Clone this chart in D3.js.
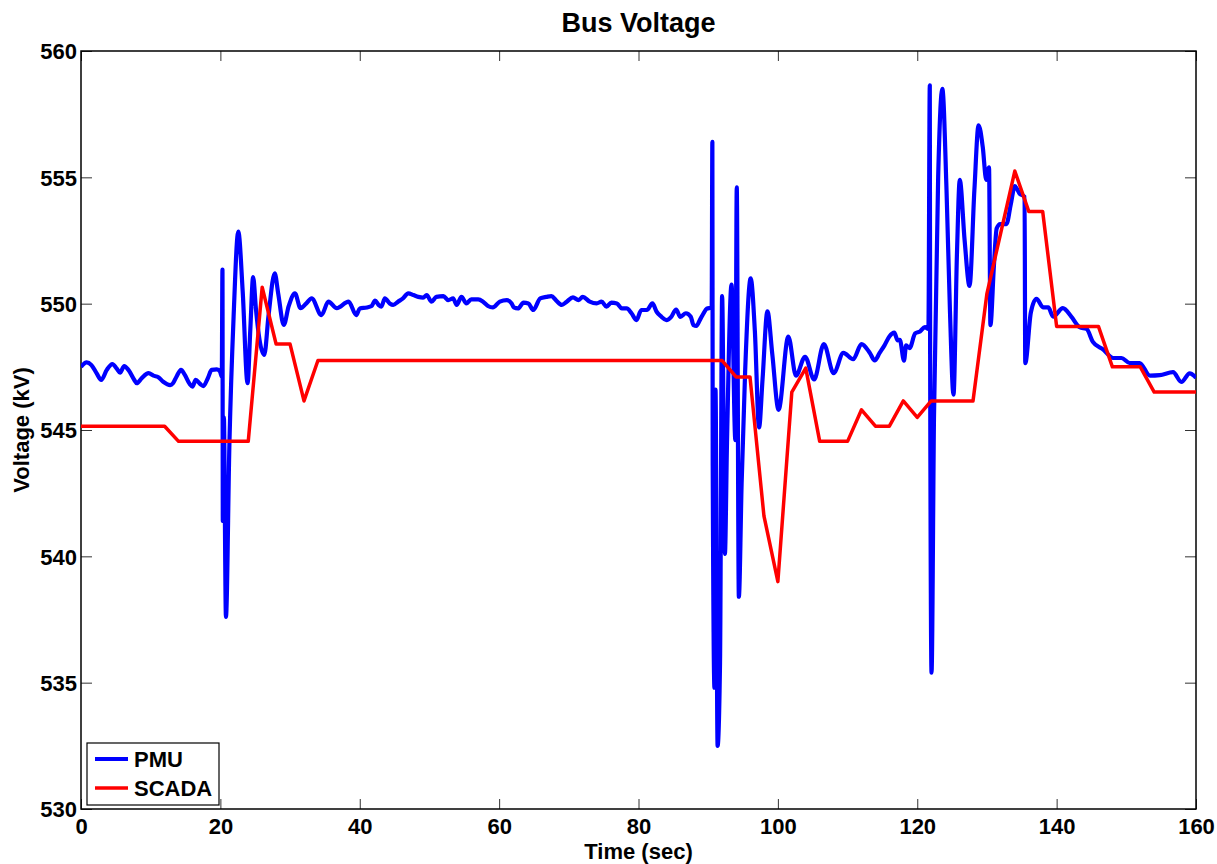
<!DOCTYPE html>
<html>
<head>
<meta charset="utf-8">
<script src="https://cdn.jsdelivr.net/npm/d3@7"></script>
<style>
  body { margin: 0; background: #fff; }
  svg text { font-family: "Liberation Sans", Arial, sans-serif; font-weight: bold; fill: #000; }
</style>
</head>
<body>
<svg id="chart"></svg>
<script>
// PMU samples (time in sec, voltage in kV)
const pmuTime = [
  0, 0.8, 1.5, 2.25, 2.9, 3.7, 4.5, 5.1, 5.6, 6.2, 6.8, 7.65, 8.0, 8.7, 9.7, 10.4, 11.1, 11.8,
  12.8, 13.2, 13.7, 14.35, 14.9, 15.6, 16.0, 16.45, 17.1, 17.55, 18.2, 18.75, 19.5, 19.95, 20.2,
  20.3, 20.35, 20.5, 20.8, 21.3, 21.9, 22.57, 23.2, 23.9, 24.3, 24.7, 25.1, 25.6, 26.3, 26.9,
  27.8, 28.3, 29.1, 29.8, 30.7, 31.5, 32.3, 33.1, 34.5, 35.5, 36.7, 38.4, 39.5, 40.0,
  41.0, 41.7, 42.2, 42.7, 43.1, 43.6, 44.3, 44.8, 45.5, 46.2, 46.96, 47.7, 48.4, 49.1, 49.6,
  50.3, 51.0, 52.0, 52.7, 53.4, 53.9, 54.6, 55.3, 56.0, 57.0, 57.7, 58.4, 59.1, 60.1, 61.1,
  61.8, 62.1, 62.7, 63.5, 64.2, 64.9, 65.9, 66.8, 67.5, 68.2, 69.0, 69.7, 70.6, 71.4, 72.0,
  73.0, 74.0, 74.7, 75.4, 76.1, 76.9, 77.6, 78.3, 79.0, 79.7, 80.4, 81.2, 82.0, 82.6, 83.3,
  84.0, 84.7, 85.4, 86.0, 86.8, 87.5, 87.9, 88.3, 88.8, 89.3, 89.8, 90.5,
  90.6, 90.65, 90.9, 91.05, 91.35, 91.7, 92.0, 92.4, 92.7, 93.35, 93.9, 94.1, 94.4, 94.8,
  95.3, 96.1, 96.7, 97.3, 97.8, 98.5, 99.2, 100.1, 101.5, 102.6, 103.9, 105.2, 106.6, 108.0,
  109.4, 110.8, 112.0, 113.2, 113.9, 114.6, 115.3, 116.0, 116.7, 117.2, 117.5, 118.1, 118.4,
  118.9, 119.7, 120.4, 121.1, 121.6, 121.8, 121.85, 122.05, 122.4, 123.0, 123.6, 124.2, 124.7,
  125.2, 125.7, 126.1, 126.8, 127.5, 128.2, 128.8, 129.4, 129.9, 130.3, 130.5, 131.0, 131.4,
  131.9, 132.8, 133.4, 134.0, 134.7, 135.4, 135.5, 136.3, 137.1, 138.1, 138.8, 139.5, 140.9,
  142.1, 143.3, 144.3, 145.2, 146.7, 148.1, 149.3, 150.5, 151.9, 153.4, 154.8, 156.7, 157.9,
  159.1, 160
];
const pmuVolt = [
  547.5, 547.68, 547.57, 547.24, 546.98, 547.38, 547.61, 547.44, 547.27, 547.53, 547.38, 546.98,
  546.85, 547.05, 547.25, 547.15, 547.09, 546.91, 546.78, 546.85, 547.11, 547.38, 547.18, 546.82,
  546.72, 546.98, 546.82, 546.74, 547.05, 547.38, 547.4, 547.31, 547.11,
  551.35, 541.4, 545.5, 537.6, 544.5, 549.5, 552.85, 550.5, 546.85, 549.0, 551.05, 549.8, 548.6,
  547.97, 549.5, 551.2, 550.4, 549.16, 549.9, 550.41, 549.82, 550.0, 550.21, 549.55, 550.08,
  549.82, 550.08, 549.55, 549.81,
  549.85, 549.91, 550.12, 549.95, 549.88, 550.21, 550.01, 549.95, 550.08, 550.21, 550.41, 550.34,
  550.27, 550.24, 550.34, 550.08, 550.27, 550.3, 550.14, 550.21, 549.95, 550.27, 550.01, 550.17,
  550.17, 550.08, 549.91, 549.85, 550.08, 550.14, 550.01, 549.85, 549.81, 550.04, 550.01, 549.75,
  550.21, 550.27, 550.3, 550.12, 549.95, 550.08, 550.25, 550.14, 550.27, 550.08, 550.01, 550.08,
  549.88, 550.04, 550.01, 549.81, 549.81, 549.62, 549.35, 549.75, 549.75, 550.01, 549.68, 549.48,
  549.35, 549.48, 549.77, 549.48, 549.62, 549.48, 549.15, 549.12, 549.35, 549.6, 549.8, 549.85,
  556.4, 543.6, 534.8, 546.6, 532.5, 535.8, 550.3, 540.1, 544.5, 550.75, 544.6, 554.6, 538.4,
  542.9, 547.3, 551.0, 548.9, 545.1, 547.0, 549.7, 548.0, 545.8, 548.7, 547.15, 547.9, 547.0,
  548.4, 547.25, 548.05, 547.8, 548.4, 548.05, 547.75, 548.05, 548.35, 548.7, 548.85, 548.55,
  548.57, 547.74, 548.35, 548.24, 548.82, 548.9, 549.07, 549.0, 558.64, 548.0, 535.4, 545.5,
  555.0, 558.5, 554.5, 549.65, 546.4, 552.0, 554.9, 552.5, 550.7, 554.5, 557.06, 556.2, 554.9,
  555.4, 549.15, 551.5, 552.98, 553.15, 553.15, 553.9, 554.65, 554.35, 554.23, 547.65, 549.65,
  550.19, 549.85, 549.85, 549.49, 549.82, 549.49, 549.07, 549.0, 548.49, 548.18, 547.85, 547.85,
  547.65, 547.65, 547.15, 547.17, 547.29, 546.9, 547.24, 547.07
];

// SCADA breakpoints (2 s scan)
const scadaTime = [0, 12, 14, 24, 26, 28, 30, 32, 34, 92, 94, 96, 98, 100, 102, 104, 106, 110,
  112, 114, 116, 118, 120, 122, 128, 130, 134, 136, 138, 140, 146, 148, 152, 154, 160];
const scadaVolt = [545.15, 545.15, 544.55, 544.55, 550.65, 548.4, 548.4, 546.15, 547.75, 547.75,
  547.1, 547.1, 541.6, 539.0, 546.5, 547.45, 544.55, 544.55, 545.8, 545.15, 545.15, 546.15,
  545.5, 546.15, 546.15, 550.4, 555.25, 553.65, 553.65, 549.1, 549.1, 547.5, 547.5, 546.5, 546.5];

const xTicks = [0, 20, 40, 60, 80, 100, 120, 140, 160];
const yTicks = [530, 535, 540, 545, 550, 555, 560];
const seriesNames = ["PMU", "SCADA"];
const seriesColors = ["#0000ff", "#ff0000"];

const W = 1217, H = 864;
const margin = { top: 51, right: 21, bottom: 55, left: 81 };
const width = W - margin.left - margin.right;
const height = H - margin.top - margin.bottom;

const svg = d3.select("#chart").attr("width", W).attr("height", H);
const g = svg.append("g").attr("transform", `translate(${margin.left},${margin.top})`);

const x = d3.scaleLinear().domain([0, 160]).range([0, width]);
const y = d3.scaleLinear().domain([530, 560]).range([height, 0]);

g.append("clipPath").attr("id", "clip")
  .append("rect").attr("width", width).attr("height", height);

// axes, ticks pointing inward on all four sides
function styleAxis(sel) {
  sel.select(".domain").remove();
  sel.selectAll(".tick line").attr("stroke", "#333").attr("stroke-width", 1);
  sel.selectAll(".tick text").attr("font-size", 22).attr("fill", "#000");
}
g.append("g").attr("transform", `translate(0,${height})`)
  .call(d3.axisBottom(x).tickValues(xTicks).tickSize(-10).tickSizeOuter(0).tickPadding(9))
  .call(styleAxis);
g.append("g")
  .call(d3.axisTop(x).tickValues(xTicks).tickSize(-10).tickSizeOuter(0).tickFormat(""))
  .call(styleAxis);
g.append("g")
  .call(d3.axisLeft(y).tickValues(yTicks).tickSize(-11).tickSizeOuter(0).tickPadding(4))
  .call(styleAxis)
  .selectAll(".tick text").attr("dy", "0.36em");
g.append("g").attr("transform", `translate(${width},0)`)
  .call(d3.axisRight(y).tickValues(yTicks).tickSize(-11).tickSizeOuter(0).tickFormat(""))
  .call(styleAxis);

// plot frame
g.append("rect").attr("width", width).attr("height", height)
  .attr("fill", "none").attr("stroke", "#000").attr("stroke-width", 1.5);

const pmuLine = d3.line().x(d => x(d[0])).y(d => y(d[1])).curve(d3.curveMonotoneX);
const scadaLine = d3.line().x(d => x(d[0])).y(d => y(d[1]));
const pmu = pmuTime.map((t, i) => [t, pmuVolt[i]]);
const scada = scadaTime.map((t, i) => [t, scadaVolt[i]]);

const lines = g.append("g").attr("clip-path", "url(#clip)");
lines.append("path").datum(pmu)
  .attr("fill", "none").attr("stroke", seriesColors[0]).attr("stroke-width", 4.2)
  .attr("stroke-linejoin", "round").attr("d", pmuLine);
lines.append("path").datum(scada)
  .attr("fill", "none").attr("stroke", seriesColors[1]).attr("stroke-width", 3.5)
  .attr("stroke-linejoin", "round").attr("d", scadaLine);

// title and axis labels
svg.append("text").attr("x", margin.left + width / 2).attr("y", 32)
  .attr("text-anchor", "middle").attr("font-size", 27).text("Bus Voltage");
svg.append("text").attr("x", margin.left + width / 2).attr("y", 859)
  .attr("text-anchor", "middle").attr("font-size", 22).text("Time (sec)");
svg.append("text")
  .attr("transform", `translate(29,${margin.top + height / 2}) rotate(-90)`)
  .attr("text-anchor", "middle").attr("font-size", 22).text("Voltage (kV)");

// legend, lower left
const legend = g.append("g").attr("transform", "translate(6,692)");
legend.append("rect").attr("width", 132).attr("height", 62)
  .attr("fill", "#fff").attr("stroke", "#000").attr("stroke-width", 1.2);
seriesNames.forEach((name, i) => {
  const ly = 16 + i * 29;
  legend.append("line").attr("x1", 8).attr("x2", 41).attr("y1", ly).attr("y2", ly)
    .attr("stroke", seriesColors[i]).attr("stroke-width", i === 0 ? 4 : 3.5);
  legend.append("text").attr("x", 47).attr("y", ly + 8)
    .attr("font-size", 22).text(name);
});
</script>
</body>
</html>
